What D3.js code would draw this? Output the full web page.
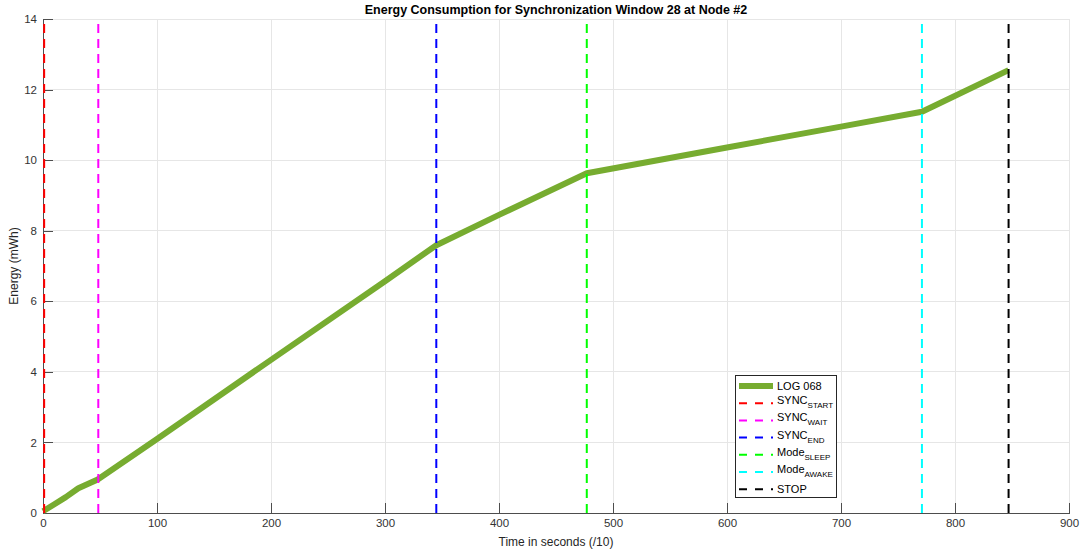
<!DOCTYPE html>
<html><head><meta charset="utf-8">
<script src="https://cdn.jsdelivr.net/npm/d3@7"></script>
<style>body{margin:0;background:#fff}svg{display:block}text{font-family:"Liberation Sans",Arial,sans-serif}</style>
</head><body><svg id="c" width="1090" height="553"></svg>
<script>
const title = "Energy Consumption for Synchronization Window 28 at Node #2";
const xLabel = "Time in seconds (/10)";
const yLabel = "Energy (mWh)";
const xTicks = [0,100,200,300,400,500,600,700,800,900];
const yTicks = [0,2,4,6,8,10,12,14];
const logTime = [0,10,20,31,48,100,200,300,345,400,477,600,700,771,847];
const logEnergy = [0.05,0.25,0.45,0.7,0.95,2.1,4.34,6.57,7.59,8.45,9.63,10.36,10.95,11.37,12.55];
const markerNames = ["SYNC","SYNC","SYNC","Mode","Mode","STOP"];
const markerSubs = ["START","WAIT","END","SLEEP","AWAKE",""];
const markerTimes = [1,48.5,345,477,771,847];
const markerColors = ["#ff0000","#ff00ff","#0000ff","#00ff00","#00ffff","#000000"];
const logName = "LOG 068";
const logColor = "#77ac30";

const svg = d3.select("#c");
const m = {l:43, r:21, t:19, b:40};
const W = 1090, H = 553;
const x = d3.scaleLinear().domain([0,900]).range([m.l, W-m.r]);
const y = d3.scaleLinear().domain([0,14]).range([H-m.b, m.t]);
const axisCol = "#4d4d4d";

// grid
svg.append("g").selectAll("line").data(xTicks).join("line")
  .attr("x1",d=>x(d)).attr("x2",d=>x(d)).attr("y1",y(0)).attr("y2",y(14))
  .attr("stroke","#e6e6e6").attr("stroke-width",1).attr("shape-rendering","crispEdges");
svg.append("g").selectAll("line").data(yTicks).join("line")
  .attr("y1",d=>y(d)).attr("y2",d=>y(d)).attr("x1",x(0)).attr("x2",x(900))
  .attr("stroke","#e6e6e6").attr("stroke-width",1).attr("shape-rendering","crispEdges");

// axes
const xa = svg.append("g").attr("transform",`translate(0,${y(0)})`)
  .call(d3.axisBottom(x).tickValues(xTicks).tickSizeInner(-10).tickSizeOuter(0).tickPadding(6));
const ya = svg.append("g").attr("transform",`translate(${x(0)},0)`)
  .call(d3.axisLeft(y).tickValues(yTicks).tickSizeInner(-10).tickSizeOuter(0).tickPadding(6));
[xa,ya].forEach(a=>{
  a.select(".domain").attr("stroke",axisCol).attr("shape-rendering","crispEdges");
  a.selectAll(".tick line").attr("stroke",axisCol).attr("shape-rendering","crispEdges");
  a.selectAll(".tick text").attr("fill","#333").style("font-size","11.5px").style("font-family","'Liberation Sans',Arial,sans-serif");
});

// data line
const line = d3.line().x((d,i)=>x(logTime[i])).y((d,i)=>y(logEnergy[i]));
svg.append("path").datum(logEnergy).attr("d",line).attr("fill","none")
  .attr("stroke",logColor).attr("stroke-width",6).attr("stroke-linejoin","round");

// markers
svg.append("g").selectAll("line").data(markerTimes).join("line")
  .attr("x1",d=>x(d)).attr("x2",d=>x(d)).attr("y1",y(0)).attr("y2",y(14))
  .attr("stroke",(d,i)=>markerColors[i]).attr("stroke-width",2).attr("stroke-dasharray","9,6");

// title & labels
svg.append("text").attr("x",(x(0)+x(900))/2).attr("y",14).attr("text-anchor","middle")
  .style("font-size","12.5px").style("font-weight","bold").attr("fill","#000").text(title);
svg.append("text").attr("x",(x(0)+x(900))/2).attr("y",546).attr("text-anchor","middle")
  .style("font-size","12px").attr("fill","#262626").text(xLabel);
svg.append("text").attr("transform",`translate(18,${(y(0)+y(14))/2}) rotate(-90)`).attr("text-anchor","middle")
  .style("font-size","12px").attr("fill","#262626").text(yLabel);

// legend
const lg = svg.append("g").attr("transform","translate(735,375)");
lg.append("rect").attr("x",0.5).attr("y",0.5).attr("width",101).attr("height",122)
  .attr("fill","#fff").attr("stroke","#262626").attr("stroke-width",1);
const rowY = i => 11 + i*17.2;
lg.append("line").attr("x1",4).attr("x2",38).attr("y1",rowY(0)).attr("y2",rowY(0))
  .attr("stroke",logColor).attr("stroke-width",6);
lg.append("text").attr("x",42).attr("y",rowY(0)+4).style("font-size","11px").attr("fill","#000").text(logName);
markerNames.forEach((n,i)=>{
  const yy = rowY(i+1);
  lg.append("line").attr("x1",4).attr("x2",38).attr("y1",yy).attr("y2",yy)
    .attr("stroke",markerColors[i]).attr("stroke-width",2).attr("stroke-dasharray","8,8");
  const t = lg.append("text").attr("x",42).attr("y",yy+ (markerSubs[i]?1:4)).style("font-size","11px").attr("fill","#000");
  t.append("tspan").text(n);
  if (markerSubs[i]) t.append("tspan").attr("dy",4).style("font-size","8px").text(markerSubs[i]);
});
</script></body></html>
